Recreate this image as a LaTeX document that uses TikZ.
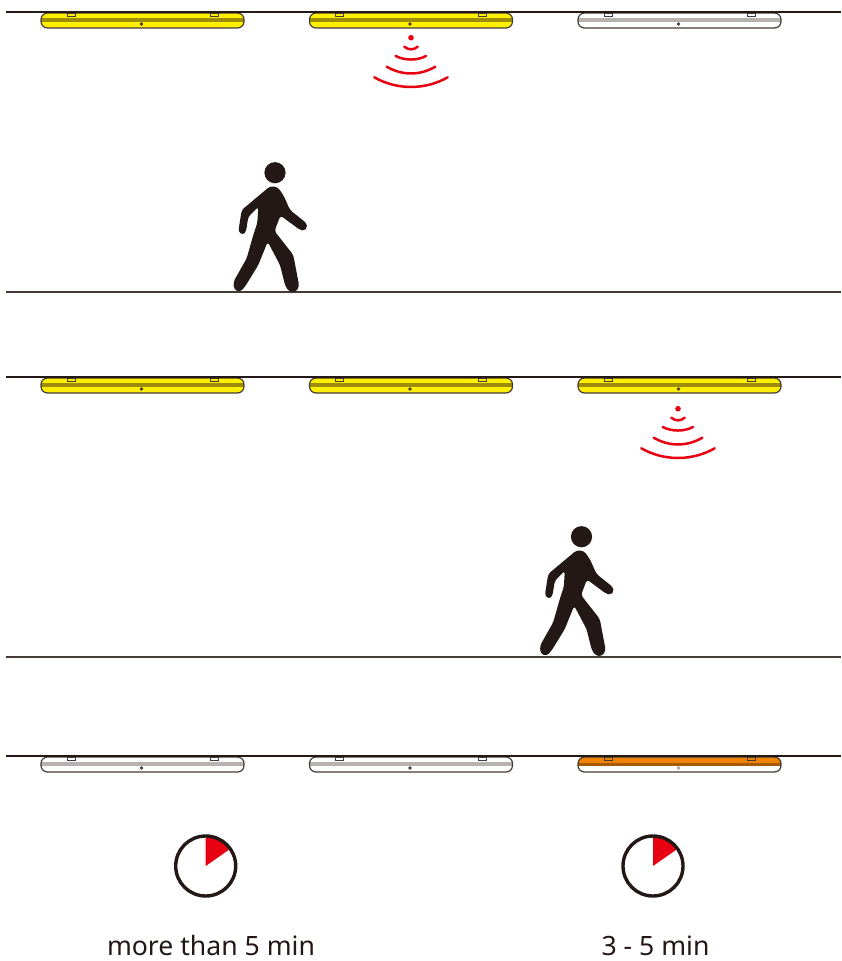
\documentclass[tikz,border=0pt]{standalone}
\usepackage{fontspec}
\setmainfont{Noto Sans}
\definecolor{inkb}{HTML}{231815}
\definecolor{lampy}{HTML}{FFF000}
\definecolor{bandy}{HTML}{9C8C0A}
\definecolor{lampo}{HTML}{F08300}
\definecolor{bando}{HTML}{A85A00}
\definecolor{bandw}{HTML}{B5B2B0}
\definecolor{redw}{HTML}{E60012}
\tikzset{
  rule/.style={draw=inkb,line width=1.8pt},
  floorline/.style={draw=inkb!85,line width=1.3pt},
  lampline/.style={draw=inkb!85,line width=1.2pt},
  tabline/.style={draw=inkb!85,line width=1pt},
  wave/.style={draw=redw,line width=2.5pt,line cap=round},
  caption/.style={font=\fontsize{26.6}{30}\selectfont,text=inkb,anchor=base},
  lamp/.pic={
    \begin{scope}
      \path[clip,rounded corners=6.5pt] (0,0) rectangle (203,15);
      \fill[lampfill] (0,0) rectangle (203,15);
      \fill[lampband] (0,5.2) rectangle (203,8.6);
    \end{scope}
    \draw[lampline,rounded corners=6.5pt] (0,0) rectangle (203,15);
    \draw[tabline] (26,0) rectangle (34,3.5);
    \draw[tabline] (169,0) rectangle (177,3.5);
    \draw[tabline] (100.5,11) circle (1.2);
  },
  halflamp/.pic={
    \begin{scope}
      \path[clip,rounded corners=6.5pt] (0,0) rectangle (203,15);
      \fill[white] (0,0) rectangle (203,15);
      \fill[lampo] (0,0) rectangle (203,9);
      \fill[bando] (0,6) rectangle (203,9);
    \end{scope}
    \draw[lampline,rounded corners=6.5pt] (0,0) rectangle (203,15);
    \draw[tabline] (26,0) rectangle (34,3.5);
    \draw[tabline] (169,0) rectangle (177,3.5);
    \draw[gray!70,line width=1pt] (100.5,11) circle (1.2);
  },
  walker/.pic={
    \fill[inkb] (55,22.7) circle (10.6);
    \fill[inkb,rounded corners=3pt]
      (50,36.3) -- (57.5,37) -- (63.3,45) -- (70,60) -- (86.7,73.3) -- (87,78) -- (84,80.5)
      -- (80,80) -- (60.5,65.5) -- (54.5,81) -- (58,85.5) -- (73.3,105) -- (79.3,136.7)
      -- (75,142.5) -- (68.3,141) -- (65,135) -- (60,115) -- (47.7,91.7) -- (38.3,115)
      -- (25,136.7) -- (20,142) -- (14,139.5) -- (13.5,131.7) -- (26.7,108.3) -- (33.3,85)
      -- (37.3,73) -- (38.3,56.7) -- (28.3,66.7) -- (26,81.7) -- (22.7,85) -- (18.3,81.7)
      -- (21.7,60) -- cycle;
  },
  signal/.pic={
    \fill[redw] (0,0) circle (2.8);
    \draw[wave] (-6.7,9) .. controls (-2.5,12.5) and (2.5,12.5) .. (6.7,9);
    \draw[wave] (-15.3,18.3) .. controls (-6,23) and (6,23) .. (15,18.3);
    \draw[wave] (-24.3,29) .. controls (-9,38) and (9,38) .. (24.3,29);
    \draw[wave] (-36.7,39.6) .. controls (-14,52.5) and (14,52.5) .. (36.7,39.6);
  },
  timer/.pic={
    \fill[redw] (0,0) -- (0,-29.5) arc[start angle=-90,end angle=-35,radius=29.5] -- cycle;
    \draw[inkb,line width=3.4pt] (0,0) circle (30);
  },
}
\newcommand{\lampat}[4]{\colorlet{lampfill}{#3}\colorlet{lampband}{#4}\pic at (#1,#2) {lamp};}
\begin{document}
\begin{tikzpicture}[x=1pt,y=-1pt]
\useasboundingbox[fill=white] (0,0) rectangle (841,961);
% rows of lamps
\lampat{41}{13}{lampy}{bandy}
\lampat{309.5}{13}{lampy}{bandy}
\lampat{578}{13}{white}{bandw}
\lampat{41}{378}{lampy}{bandy}
\lampat{309.5}{378}{lampy}{bandy}
\lampat{578}{378}{lampy}{bandy}
\lampat{41}{757}{white}{bandw}
\lampat{309.5}{757}{white}{bandw}
\pic at (578,757) {halflamp};
% ceilings and floors
\draw[rule] (6,12.3) -- (841,12.3);
\draw[rule] (6,377.3) -- (841,377.3);
\draw[rule] (6,756.3) -- (841,756.3);
\draw[floorline] (6,292) -- (841,292);
\draw[floorline] (6,657) -- (841,657);
% people
\pic at (220,150) {walker};
\pic at (526.5,514) {walker};
% sensor signals
\pic at (411,37.7) {signal};
\pic at (678,408.7) {signal};
% timers
\pic at (205.7,866) {timer};
\pic at (653,866) {timer};
\node[caption] (capa) at (211,955) {more than 5 min};
\node[caption] (capb) at (655.5,955) {3 - 5 min};
\end{tikzpicture}
\end{document}
